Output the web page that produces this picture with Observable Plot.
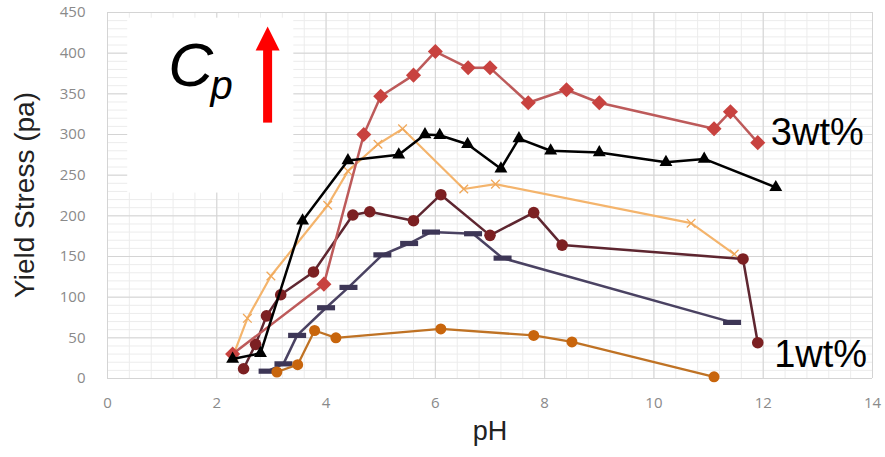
<!DOCTYPE html>
<html>
<head>
<meta charset="utf-8">
<script src="https://cdn.jsdelivr.net/npm/d3@7"></script>
<script src="https://cdn.jsdelivr.net/npm/@observablehq/plot@0.6"></script>
<style>
  html, body { margin: 0; padding: 0; background: #fff; }
</style>
</head>
<body>
<div id="chart"></div>
<script>
// ---- data ----
const pinkPH   = [2.29, 3.96, 4.69, 5.0, 5.6, 6.0, 6.6, 7.0, 7.7, 8.4, 9.0, 11.1, 11.4, 11.9];
const pinkY    = [30, 116, 300, 347, 373, 402, 382, 382, 339, 355, 339, 307, 328, 290];

const blackPH  = [2.29, 2.8, 3.57, 4.4, 5.33, 5.81, 6.08, 6.59, 7.2, 7.53, 8.11, 9.0, 10.22, 10.92, 12.23];
const blackY   = [24, 31, 194, 268, 275, 300, 299, 288, 258, 295, 280, 278, 266, 270, 235];

const lorangePH = [2.3, 2.56, 2.99, 4.03, 4.4, 4.95, 5.4, 6.52, 7.1, 10.68, 11.47];
const lorangeY  = [28, 74, 126, 213, 255, 288, 307, 233, 239, 191, 153];

const maroonPH = [2.49, 2.71, 2.91, 3.17, 3.77, 4.49, 4.8, 5.6, 6.1, 7.0, 7.8, 8.32, 11.63, 11.9];
const maroonY  = [12, 42, 77, 103, 131, 201, 205, 194, 226, 176, 204, 164, 147, 44];

const slatePH  = [2.93, 3.22, 3.47, 4.0, 4.41, 5.03, 5.52, 5.92, 6.69, 7.23, 11.43];
const slateY   = [9, 18, 53, 87, 112, 152, 166, 180, 178, 148, 69];

const brownPH  = [3.1, 3.48, 3.79, 4.18, 6.1, 7.8, 8.5, 11.1];
const brownY   = [8, 17, 59, 50, 61, 53, 45, 2];

const xTicks = [0, 2, 4, 6, 8, 10, 12, 14];
const yTicks = [0, 50, 100, 150, 200, 250, 300, 350, 400, 450];
const xMinor = d3.range(0, 36).map(i => +(i * 0.4).toFixed(1));
const yMinor = d3.range(0, 46).map(i => i * 10);

const seriesLabels = ["3wt%", "1wt%"];
const axisLabels = {x: "pH", y: "Yield Stress (pa)"};

// annotation anchors (data units)
const insetBox = [{x1: 0.37, x2: 3.41, y1: 228, y2: 443}];
const arrowShaft = [{x: 2.93, y1: 314, y2: 418}];
const arrowHead = [{x: 2.93, y: 418}];
const cpC = [{x: 1.52, y: 384, t: "C"}];
const cpP = [{x: 2.09, y: 359, t: "p"}];
const labelPos = [{x: 12.14, y: 302.5, t: seriesLabels[0]}, {x: 12.2, y: 28.5, t: seriesLabels[1]}];

const toRows = (xs, ys) => xs.map((x, i) => ({x, y: ys[i]}));
const pink = toRows(pinkPH, pinkY);
const black = toRows(blackPH, blackY);
const lorange = toRows(lorangePH, lorangeY);
const maroon = toRows(maroonPH, maroonY);
const slate = toRows(slatePH, slateY);
const brown = toRows(brownPH, brownY);

const dashSymbol = {draw(ctx) { ctx.rect(-9, -2.6, 18, 5.2); }};
const headSymbol = {draw(ctx) { ctx.moveTo(0, -12); ctx.lineTo(12, 12); ctx.lineTo(-12, 12); ctx.closePath(); }};

const F = "Liberation Sans, Arial, sans-serif";

const chart = Plot.plot({
  width: 885,
  height: 457,
  marginLeft: 107,
  marginRight: 13,
  marginTop: 12,
  marginBottom: 79,
  style: {background: "#fff", fontFamily: F},
  x: {domain: [0, 14]},
  y: {domain: [0, 450]},
  marks: [
    Plot.gridX(xMinor, {stroke: "#ececec", strokeOpacity: 1}),
    Plot.gridY(yMinor, {stroke: "#ececec", strokeOpacity: 1}),
    Plot.gridX(xTicks, {stroke: "#d4d4d4", strokeOpacity: 1}),
    Plot.gridY(yTicks, {stroke: "#d4d4d4", strokeOpacity: 1}),
    Plot.axisX(xTicks, {tickSize: 0, tickPadding: 19, fontSize: 15, fill: "#8a8a8a", label: null, fontFamily: "Open Sans, sans-serif"}),
    Plot.axisY(yTicks, {tickSize: 0, tickPadding: 22, fontSize: 15, fill: "#8a8a8a", label: null, fontFamily: "Open Sans, sans-serif"}),
    Plot.text([axisLabels.x], {text: d => d, frameAnchor: "bottom", dy: 61, fontSize: 27, fill: "#222"}),

    // inset box with Cp and arrow
    Plot.rect(insetBox, {x1: "x1", x2: "x2", y1: "y1", y2: "y2", fill: "#fff"}),
    Plot.ruleX(arrowShaft, {x: "x", y1: "y1", y2: "y2", stroke: "#ff0000", strokeWidth: 9}),
    Plot.dot(arrowHead, {x: "x", y: "y", symbol: headSymbol, fill: "#ff0000", stroke: "none"}),
    Plot.text(cpC, {x: "x", y: "y", text: "t", fontSize: 62, fontStyle: "italic", fill: "#000"}),
    Plot.text(cpP, {x: "x", y: "y", text: "t", fontSize: 40, fontStyle: "italic", fill: "#000"}),

    // light orange with x markers
    Plot.line(lorange, {x: "x", y: "y", stroke: "#f4b46c", strokeWidth: 2.2}),
    Plot.dot(lorange, {x: "x", y: "y", symbol: "times", r: 4, stroke: "#f0a85a", strokeWidth: 1.3}),
    // slate dashes
    Plot.line(slate, {x: "x", y: "y", stroke: "#4a4262", strokeWidth: 2.5}),
    Plot.dot(slate, {x: "x", y: "y", symbol: dashSymbol, fill: "#3d3656", stroke: "none"}),
    // brown-orange circles
    Plot.line(brown, {x: "x", y: "y", stroke: "#bf7224", strokeWidth: 2.3}),
    Plot.dot(brown, {x: "x", y: "y", r: 5.5, fill: "#c8650c", stroke: "none"}),
    // maroon circles
    Plot.line(maroon, {x: "x", y: "y", stroke: "#5e2630", strokeWidth: 2.5}),
    Plot.dot(maroon, {x: "x", y: "y", r: 5.8, fill: "#7c2022", stroke: "none"}),
    // pink-red diamonds
    Plot.line(pink, {x: "x", y: "y", stroke: "#bd5a5a", strokeWidth: 2.5}),
    Plot.dot(pink, {x: "x", y: "y", symbol: "diamond2", r: 6.8, fill: "#c8423f", stroke: "none"}),
    // black triangles
    Plot.line(black, {x: "x", y: "y", stroke: "#000", strokeWidth: 2.5}),
    Plot.dot(black, {x: "x", y: "y", symbol: "triangle", r: 4.8, fill: "#000", stroke: "none"}),

    // series labels
    Plot.text(labelPos, {x: "x", y: "y", text: "t", textAnchor: "start", fontSize: 38, fill: "#000"})
  ]
});

// y-axis title, rotated, centred on the plot frame
d3.select(chart).append("text")
  .attr("transform", "translate(34,195) rotate(-90)")
  .attr("text-anchor", "middle")
  .attr("font-family", F)
  .attr("font-size", 28)
  .attr("fill", "#222")
  .text(axisLabels.y);

document.getElementById("chart").appendChild(chart);
</script>
</body>
</html>
